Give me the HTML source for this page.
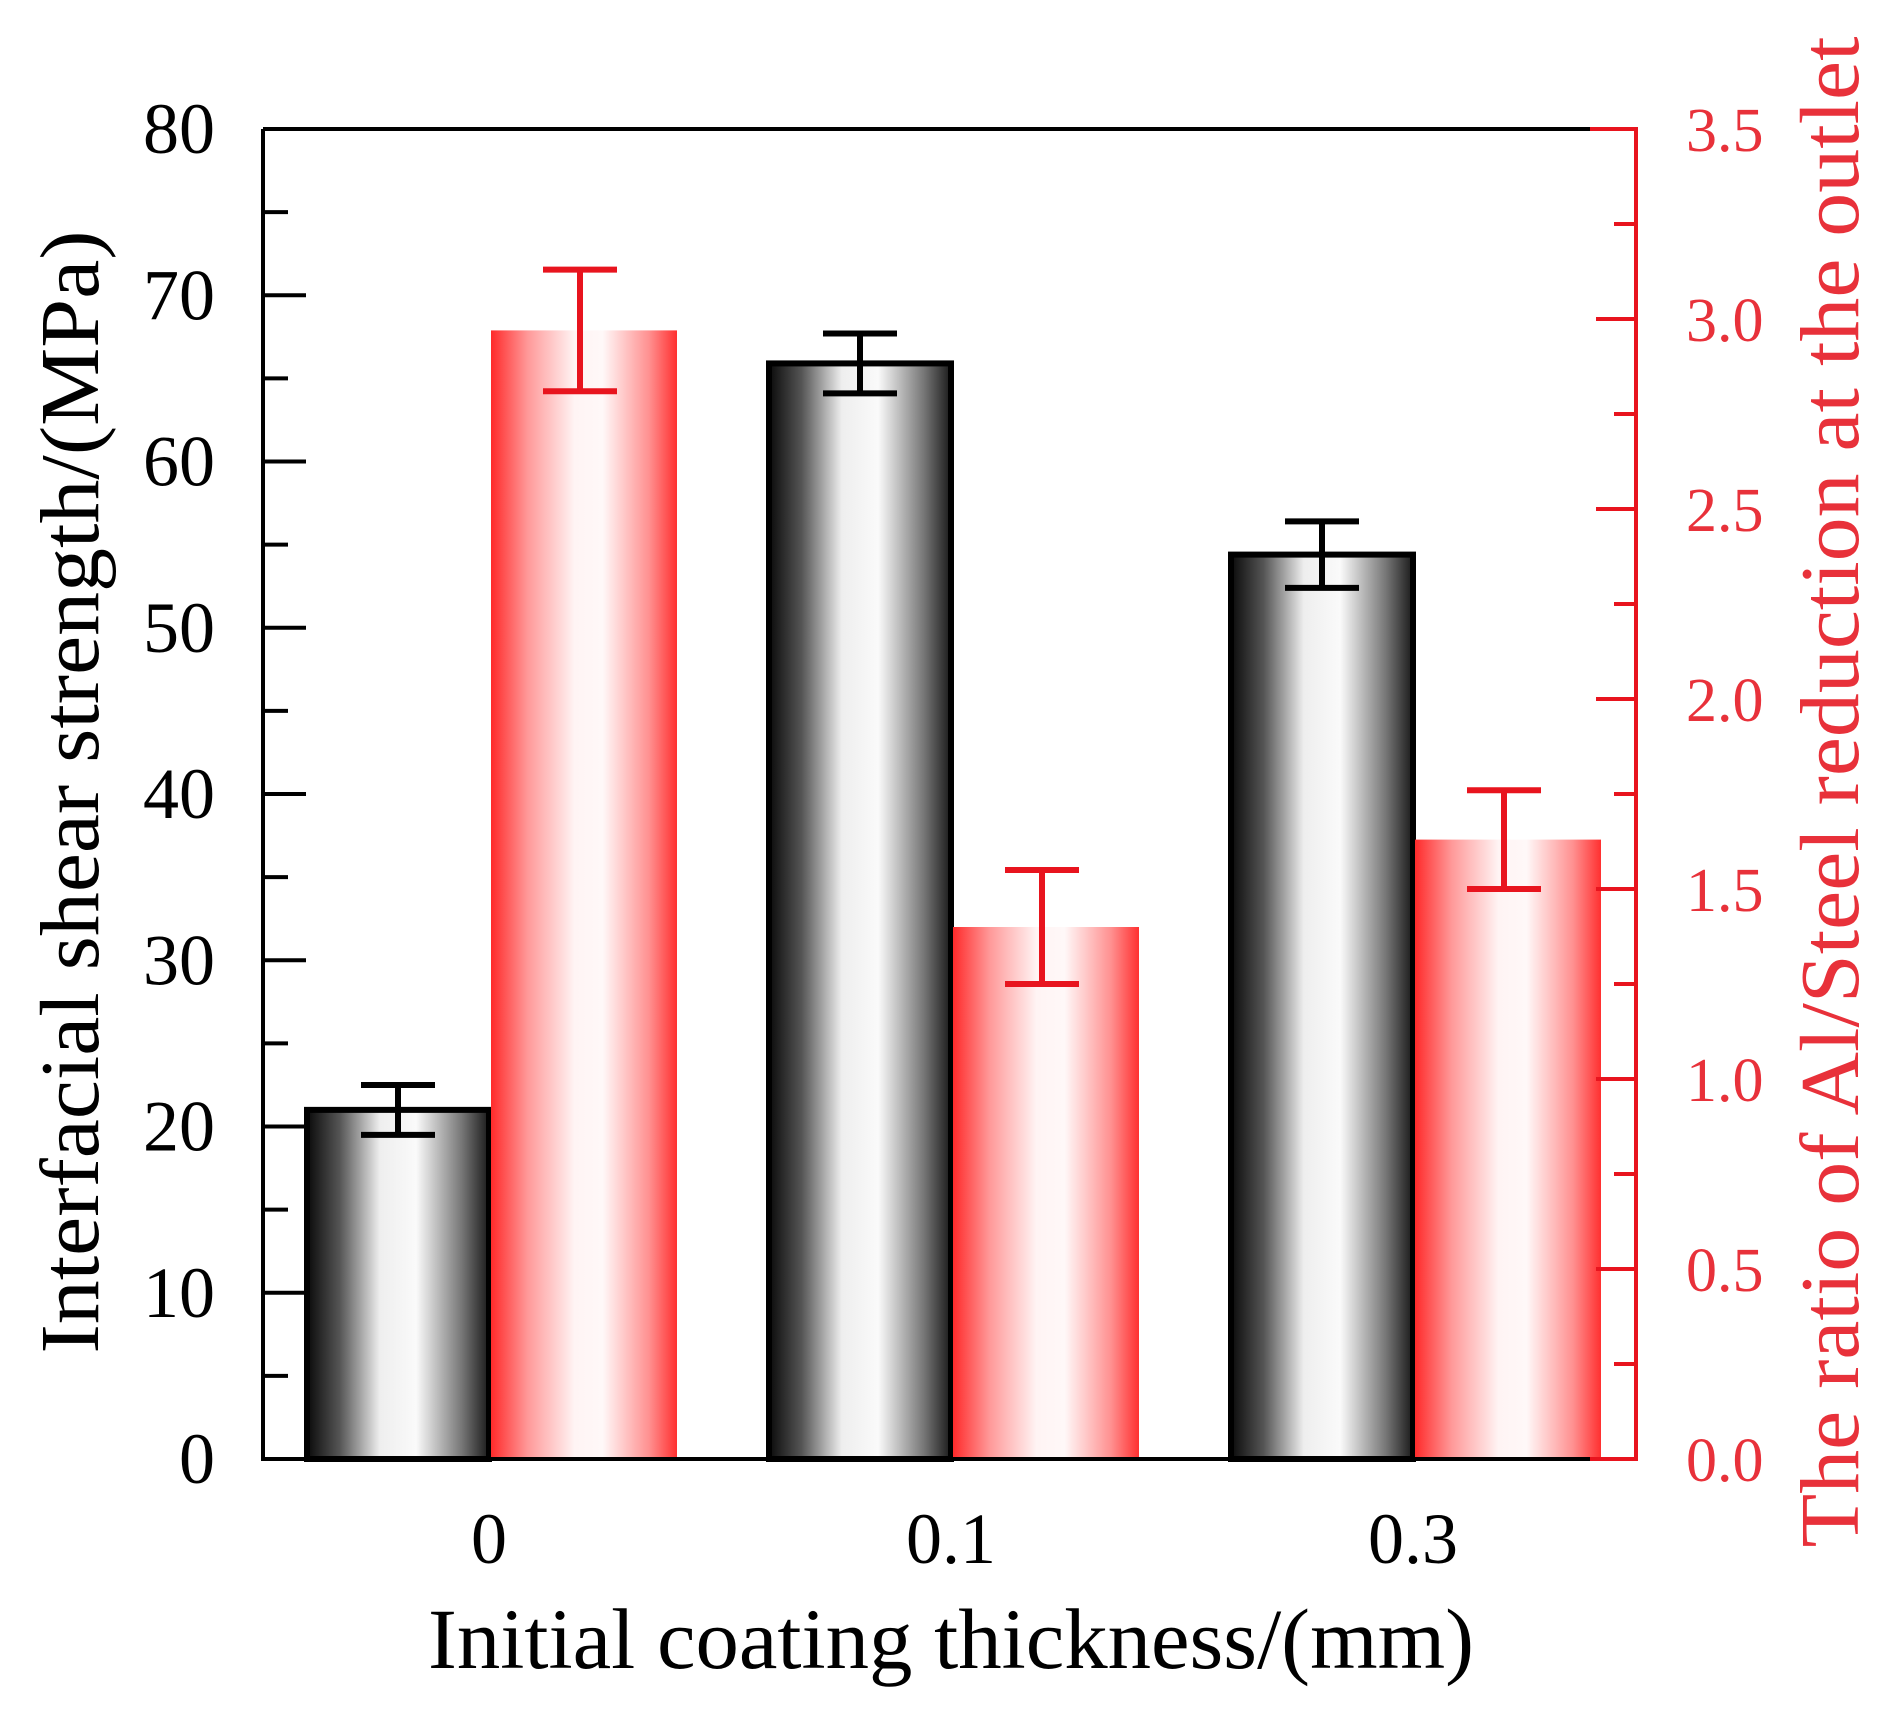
<!DOCTYPE html>
<html><head><meta charset="utf-8"><style>
html,body{margin:0;padding:0;background:#fff;}
svg{display:block;font-family:"Liberation Serif",serif;}
</style></head><body>
<svg id="chart" width="1895" height="1717" viewBox="0 0 1895 1717" xmlns="http://www.w3.org/2000/svg">
<defs>
<linearGradient id="gBlack" x1="0" x2="1" y1="0" y2="0">
<stop offset="0" stop-color="#0a0a0a"/><stop offset="0.18" stop-color="#555"/><stop offset="0.4" stop-color="#eee"/><stop offset="0.6" stop-color="#fafafa"/><stop offset="0.85" stop-color="#777"/><stop offset="1" stop-color="#1a1a1a"/>
</linearGradient>
<linearGradient id="gRed" x1="0" x2="1" y1="0" y2="0">
<stop offset="0" stop-color="#ff2a2a"/><stop offset="0.2" stop-color="#ff9a9a"/><stop offset="0.45" stop-color="#fff4f4"/><stop offset="0.6" stop-color="#fff8f8"/><stop offset="0.85" stop-color="#ff9090"/><stop offset="1" stop-color="#ff3030"/>
</linearGradient>
</defs>
<g id="bars"></g>
<g id="axes"></g>
<text x="951" y="1668" font-size="86" text-anchor="middle" textLength="1046" lengthAdjust="spacingAndGlyphs" fill="#000">Initial coating thickness/(mm)</text>
<text transform="translate(98,792) rotate(-90)" font-size="84" text-anchor="middle" textLength="1123" lengthAdjust="spacingAndGlyphs" fill="#000">Interfacial shear strength/(MPa)</text>
<text transform="translate(1858,792) rotate(-90)" font-size="84" text-anchor="middle" textLength="1511" lengthAdjust="spacingAndGlyphs" fill="#e8313a">The ratio of Al/Steel reduction at the outlet</text>
</svg>
<script>
const categories = ["0", "0.1", "0.3"];
const strengthValues = [21.0, 65.9, 54.4];
const strengthErrors = [1.5, 1.8, 2.0];
const ratioValues = [2.97, 1.40, 1.63];
const ratioErrors = [0.16, 0.15, 0.13];
const leftTicks = [0, 10, 20, 30, 40, 50, 60, 70, 80];
const rightTicks = ["0.0", "0.5", "1.0", "1.5", "2.0", "2.5", "3.0", "3.5"];

const NS = "http://www.w3.org/2000/svg";
const X0 = 263, X1 = 1636, Y0 = 1459, Y1 = 129;
const yL = v => Y0 - (v / 80) * (Y0 - Y1);
const yR = v => Y0 - (v / 3.5) * (Y0 - Y1);
const groupX = i => 489 + i * 462;
const BW = 182;

function mk(tag, attrs, parent) {
  const e = document.createElementNS(NS, tag);
  for (const k in attrs) e.setAttribute(k, attrs[k]);
  parent.appendChild(e);
  return e;
}
const bars = document.getElementById("bars");
const axes = document.getElementById("axes");

categories.forEach((c, i) => {
  const cx = groupX(i);
  const yb = yL(strengthValues[i]);
  const b = mk("rect", {x: cx - BW, y: yb, width: BW, height: Y0 - yb, fill: "url(#gBlack)", stroke: "#000", "stroke-width": 6}, bars);
  
  
  const yr = yR(ratioValues[i]);
  const r = mk("rect", {x: cx + 2, y: yr, width: BW + 4, height: Y0 - yr, fill: "url(#gRed)"}, bars);
  
  
  const bx = cx - BW / 2;
  const eb = mk("path", {d: `M${bx - 37} ${yL(strengthValues[i] + strengthErrors[i])}h74M${bx} ${yL(strengthValues[i] + strengthErrors[i])}V${yL(strengthValues[i] - strengthErrors[i])}M${bx - 37} ${yL(strengthValues[i] - strengthErrors[i])}h74`, stroke: "#000", "stroke-width": 6, fill: "none"}, bars);
  
  
  const rx = cx + BW / 2;
  const er = mk("path", {d: `M${rx - 37} ${yR(ratioValues[i] + ratioErrors[i])}h74M${rx} ${yR(ratioValues[i] + ratioErrors[i])}V${yR(ratioValues[i] - ratioErrors[i])}M${rx - 37} ${yR(ratioValues[i] - ratioErrors[i])}h74`, stroke: "#e8141e", "stroke-width": 6, fill: "none"}, bars);
  
  
  const t = mk("text", {x: cx, y: 1563, "font-size": 72, "text-anchor": "middle", fill: "#000"}, axes);
  t.textContent = c;
  
  
});

const fr = mk("path", {d: `M${X0} ${Y1}V${Y0}H${X1 - 46}M${X0} ${Y1}H${X1 - 46}`, stroke: "#000", "stroke-width": 4, fill: "none"}, axes);


const ra = mk("path", {d: `M${X1 - 46} ${Y1}H${X1}V${Y0}H${X1 - 46}`, stroke: "#e8141e", "stroke-width": 4, fill: "none"}, axes);



leftTicks.forEach((v, i) => {
  const y = yL(v);
  const tk = mk("line", {x1: X0, x2: X0 + 43, y1: y, y2: y, stroke: "#000", "stroke-width": 4}, axes);
  
  
  if (i < leftTicks.length - 1) {
    const ym = yL(v + 5);
    const mt = mk("line", {x1: X0, x2: X0 + 25, y1: ym, y2: ym, stroke: "#000", "stroke-width": 4}, axes);
    
    
  }
  const t = mk("text", {x: 215, y: y + 24, "font-size": 72, "text-anchor": "end", fill: "#000"}, axes);
  t.textContent = v;
  
  
});

rightTicks.forEach((s, i) => {
  const v = parseFloat(s);
  const y = yR(v);
  const tk = mk("line", {x1: X1, x2: X1 - 40, y1: y, y2: y, stroke: "#e8141e", "stroke-width": 4}, axes);
  
  
  if (i < rightTicks.length - 1) {
    const ym = yR(v + 0.25);
    const mt = mk("line", {x1: X1, x2: X1 - 22, y1: ym, y2: ym, stroke: "#e8141e", "stroke-width": 4}, axes);
    
    
  }
  const t = mk("text", {x: 1686, y: y + 22, "font-size": 62, "text-anchor": "start", fill: "#e8313a"}, axes);
  t.textContent = s;
  
  
});
</script>
</body></html>
